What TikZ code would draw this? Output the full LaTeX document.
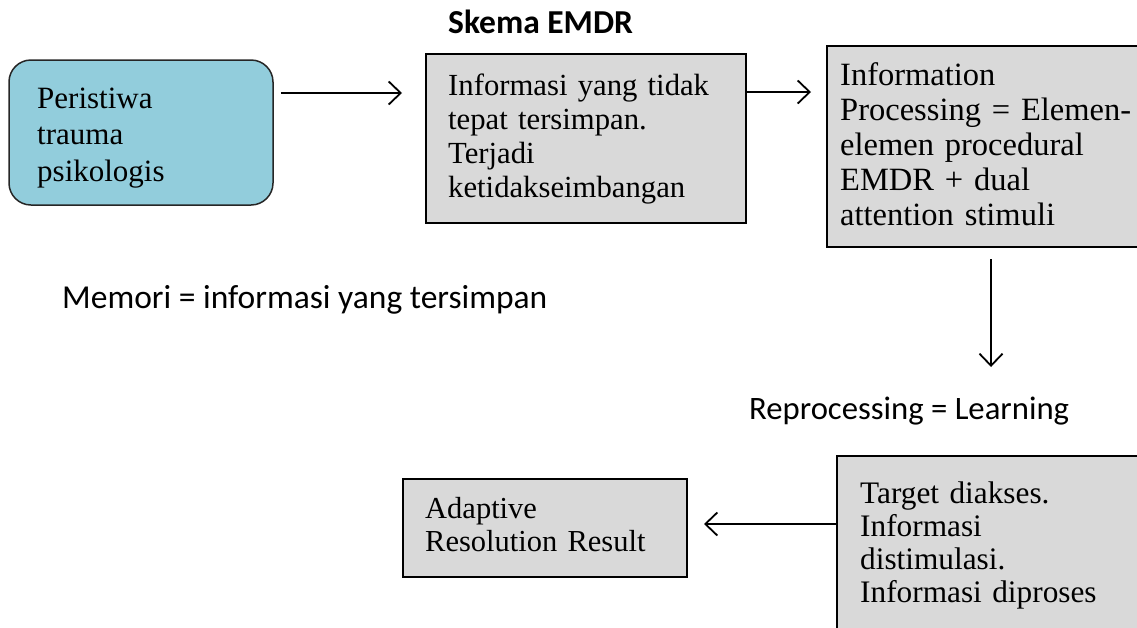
\documentclass[tikz,border=0pt]{standalone}
\usepackage{fontspec}
\setmainfont{Liberation Serif}
\newfontfamily\calfont{Carlito}
\usetikzlibrary{arrows.meta}
\definecolor{boxblue}{HTML}{92CDDC}
\definecolor{boxgrey}{HTML}{D9D9D9}
\begin{document}
\begin{tikzpicture}[x=1pt,y=-1pt,
  greybox/.style={draw=black, line width=2pt, fill=boxgrey, inner sep=0pt},
  bluebox/.style={draw=black!85, line width=1.5pt, fill=boxblue, rounded corners=22pt, inner sep=0pt},
  boxtext/.style={anchor=base west, inner sep=0pt, align=left, text width=420pt},
  plaintext/.style={anchor=base west, inner sep=0pt},
  arr/.style={-{Straight Barb[length=12pt,width=23pt]}, line width=1.8pt}
]
\useasboundingbox (0,0) rectangle (1137,627);
\clip (0,0) rectangle (1137,627);

% boxes
\node[bluebox, minimum width=264pt, minimum height=145pt] (b1) at (141,132.5) {};
\node[greybox, minimum width=320pt, minimum height=169pt] (b2) at (586,138.5) {};
\node[greybox, minimum width=323pt, minimum height=201pt] (b3) at (988.5,146.5) {};
\node[greybox, minimum width=284pt, minimum height=98pt] (b4) at (545,528) {};
\node[greybox, minimum width=313pt, minimum height=184pt] (b5) at (993.5,548) {};

% box texts
\node[boxtext, font=\fontsize{31}{36.5}\selectfont] (t1) at (37,108) {Peristiwa\\trauma\\psikologis};
\node[boxtext, font=\fontsize{30.7}{34}\selectfont] (t2) at (448,95) {Informasi yang tidak\\tepat tersimpan.\\Terjadi\\ketidakseimbangan};
\node[boxtext, font=\fontsize{32.5}{35.2}\selectfont] (t3) at (840,85) {Information\\Processing = Elemen-\\elemen procedural\\EMDR + dual\\attention stimuli};
\node[boxtext, font=\fontsize{30.5}{33}\selectfont] (t4) at (425,518) {Adaptive\\Resolution Result};
\node[boxtext, font=\fontsize{31.3}{33.3}\selectfont] (t5) at (860,503) {Target diakses.\\Informasi\\distimulasi.\\Informasi diproses};

% free texts
\node[plaintext, font=\calfont\bfseries\fontsize{33.5}{40}\selectfont] (title) at (448,33) {Skema EMDR};
\node[plaintext, font=\calfont\fontsize{33.5}{40}\selectfont] (memori) at (62,308) {Memori = informasi yang tersimpan};
\node[plaintext, font=\calfont\fontsize{32.7}{39}\selectfont] (repro) at (749,419) {Reprocessing = Learning};

% connectors
\coordinate (r1) at (0,93);
\draw[arr, shorten <=7pt, shorten >=23pt] (b1.east |- r1) -- (b2.west |- r1);
\coordinate (r2) at (0,92);
\draw[arr, shorten >=15pt] (b2.east |- r2) -- (b3.west |- r2);
\coordinate (e3) at (991,367);
\draw[arr, shorten <=11pt] (b3.south -| e3) -- (e3);
\coordinate (r4) at (0,524);
\draw[arr, shorten >=16pt] (b5.west |- r4) -- (b4.east |- r4);
\end{tikzpicture}
\end{document}
